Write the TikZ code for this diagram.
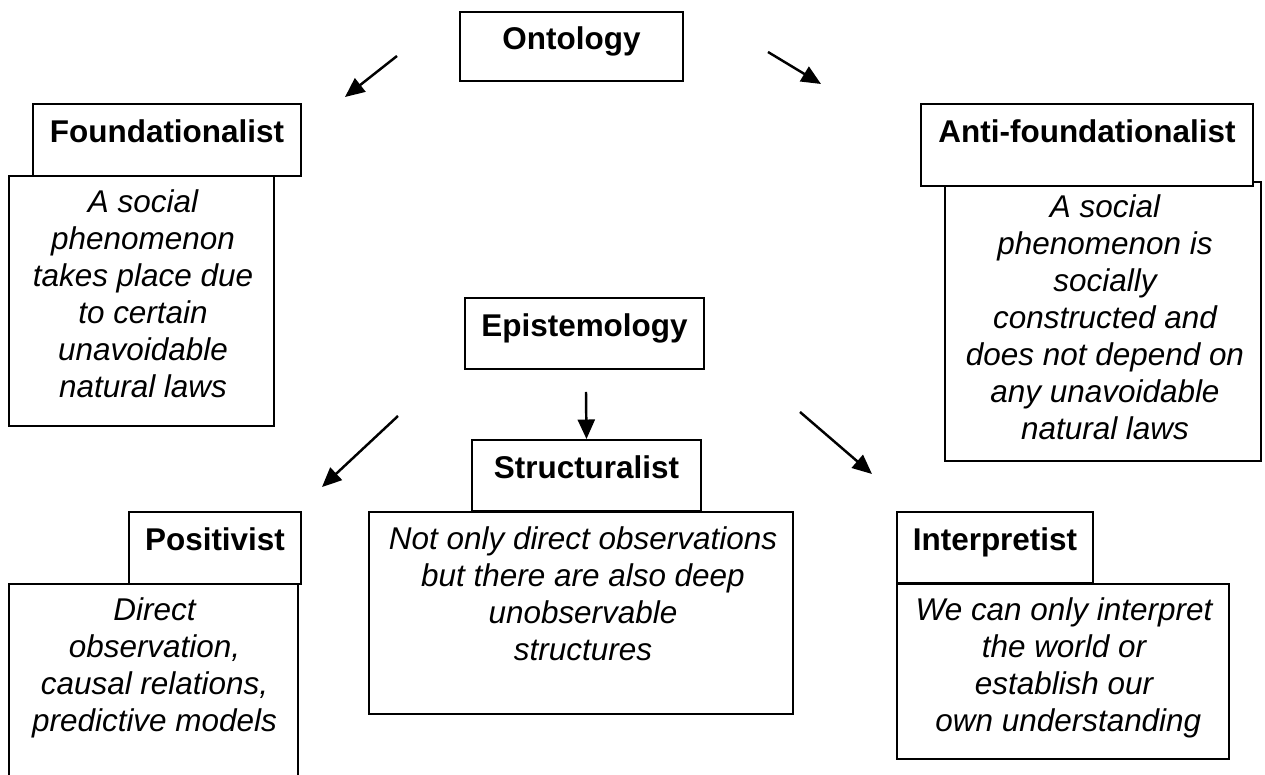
\documentclass[tikz,border=0pt]{standalone}
\usepackage{fontspec}
\setmainfont{Liberation Sans}
\usepackage{tikz}
\usetikzlibrary{arrows.meta,positioning}
\newcommand{\diagfont}{\fontsize{17.9pt}{21.05pt}\selectfont}
\tikzset{
  headbox/.style={draw,fill=white,line width=1.1pt,inner sep=0pt,font=\diagfont\bfseries,text height=0.45cm,text depth=0.33cm},
  bodybox/.style={draw,fill=white,line width=1.1pt,inner sep=0pt},
  bodytxt/.style={align=center,inner sep=0pt,font=\diagfont\itshape},
  arr/.style={-{Triangle[length=3.9mm,width=3.4mm]},line width=1.4pt}
}

\begin{document}
\begin{tikzpicture}
  \useasboundingbox (0,0) rectangle (25.3,15.5);
  \clip (0,0) rectangle (25.3,15.5);

  % ontology
  \node[headbox,minimum width=4.46cm,minimum height=1.38cm] (onto) at (11.43,14.57) {Ontology};

  \node[bodybox,minimum width=5.30cm,minimum height=5.00cm] (foundB) at (2.83,9.48) {};
  \node[headbox,minimum width=5.36cm,minimum height=1.44cm] (foundH) at (3.34,12.70) {Foundationalist};
  \node[bodytxt,below=0.28cm] (foundT) at ([xshift=0.03cm]foundB.north)
    {A social\\phenomenon\\takes place due\\to certain\\unavoidable\\natural laws};

  \node[bodybox,minimum width=6.32cm,minimum height=5.58cm] (antiB) at (22.06,9.07) {};
  \node[headbox,minimum width=6.64cm,minimum height=1.64cm,text depth=0.53cm] (antiH) at (21.74,12.60) {Anti-foundationalist};
  \node[bodytxt,below=0.26cm] (antiT) at ([xshift=0.04cm]antiB.north)
    {A social\\phenomenon is\\socially\\constructed and\\does not depend on\\any unavoidable\\natural laws};

  % epistemology
  \node[headbox,minimum width=4.78cm,minimum height=1.42cm] (epi) at (11.69,8.83) {Epistemology};

  \node[bodybox,minimum width=5.78cm,minimum height=4.12cm] (posB) at (3.07,1.76) {};
  \node[headbox,minimum width=3.44cm,minimum height=1.44cm] (posH) at (4.30,4.54) {Positivist};
  \node[bodytxt,below=0.28cm] (posT) at ([xshift=0.02cm]posB.north)
    {Direct\\observation,\\causal relations,\\predictive models};

  \node[bodybox,minimum width=8.48cm,minimum height=4.04cm] (struB) at (11.62,3.24) {};
  \node[headbox,minimum width=4.58cm,minimum height=1.42cm] (struH) at (11.73,5.99) {Structuralist};
  \node[bodytxt,below=0.30cm] (struT) at ([xshift=0.04cm]struB.north)
    {Not only direct observations\\but there are also deep\\unobservable\\structures};

  \node[bodybox,minimum width=6.64cm,minimum height=3.50cm] (intB) at (21.26,2.07) {};
  \node[headbox,minimum width=3.92cm,minimum height=1.42cm] (intH) at (19.90,4.55) {Interpretist};
  \node[bodytxt,below=0.28cm] (intT) at ([xshift=0.02cm]intB.north)
    {We can only interpret\\the world or\\establish our\\\ own understanding};

  % arrow ends
  \coordinate (ontoL) at (7.94,14.38);
  \coordinate (foundA) at (6.90,13.56);
  \coordinate (ontoR) at (15.36,14.46);
  \coordinate (antiA) at (16.42,13.82);
  \coordinate (epiL) at (7.96,7.18);
  \coordinate (posA) at (6.44,5.76);
  \coordinate (epiD) at (11.72,7.66);
  \coordinate (epiR) at (16.00,7.26);
  \coordinate (intA) at (17.44,6.02);

  \draw[arr] (ontoL) -- (foundA);
  \draw[arr] (ontoR) -- (antiA);
  \draw[arr] (epiL) -- (posA);
  \draw[arr] (epiD) -- (struH.north);
  \draw[arr] (epiR) -- (intA);
\end{tikzpicture}
\end{document}
